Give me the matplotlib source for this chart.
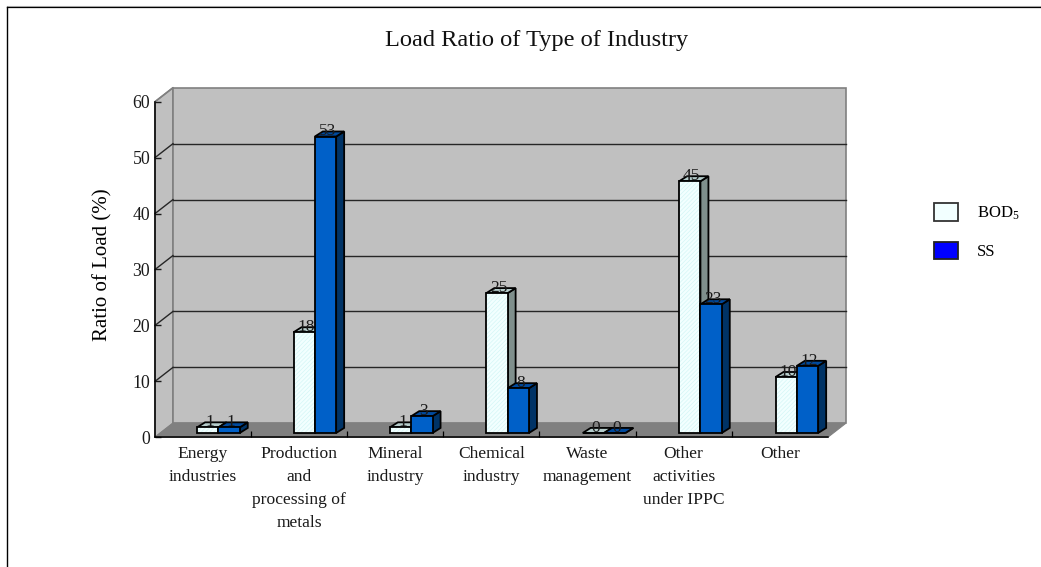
"""Load ratio by type of industry, drawn as a pseudo-3D clustered bar chart."""

import matplotlib
matplotlib.use("Agg")
import matplotlib.pyplot as plt
from matplotlib.lines import Line2D
from matplotlib.patches import Patch

plt.rcParams["font.family"] = ["Liberation Serif", "DejaVu Serif"]
plt.rcParams["mathtext.fontset"] = "custom"
plt.rcParams["mathtext.rm"] = "Liberation Serif"
plt.rcParams["mathtext.default"] = "regular"
plt.rcParams["hatch.linewidth"] = 0.5

categories = [
    "Energy\nindustries",
    "Production\nand\nprocessing of\nmetals",
    "Mineral\nindustry",
    "Chemical\nindustry",
    "Waste\nmanagement",
    "Other\nactivities\nunder IPPC",
    "Other",
]
bod5 = [1, 18, 1, 25, 0, 45, 10]
ss = [1, 53, 3, 8, 0, 23, 12]
y_ticks = [0, 10, 20, 30, 40, 50, 60]

# room depth and bar geometry, in data units
DEPTH_X = 0.187
DEPTH_Y = 2.5
BAR_W = 0.222
BAR_DX = 0.083
BAR_DY = 0.9
BAR_BASE = 0.775
CLUSTER_SHIFT = 0.16
CLUSTER_STEP = 1.003

WALL = "#c0c0c0"
FLOOR = "#808080"
WALL_EDGE = "#808080"
GRID = "#262626"
EDGE_W = 1.3


def bar3d(ax, left, value, face, side, top, z, hatch=None):
    bottom = BAR_BASE
    right = left + BAR_W
    high = bottom + value
    ax.fill([right, right + BAR_DX, right + BAR_DX, right],
            [bottom, bottom + BAR_DY, high + BAR_DY, high],
            facecolor=side, edgecolor="black", lw=EDGE_W, clip_on=False, zorder=z)
    ax.fill([left, right, right + BAR_DX, left + BAR_DX],
            [high, high, high + BAR_DY, high + BAR_DY],
            facecolor=top, edgecolor="black", lw=EDGE_W, clip_on=False, zorder=z)
    if hatch:
        ax.bar(left, value, BAR_W, bottom=bottom, align="edge", facecolor=face,
               edgecolor=hatch, hatch="////////", lw=0, clip_on=False, zorder=z)
        ax.bar(left, value, BAR_W, bottom=bottom, align="edge", fill=False,
               edgecolor="black", lw=EDGE_W, clip_on=False, zorder=z)
    else:
        ax.bar(left, value, BAR_W, bottom=bottom, align="edge", facecolor=face,
               edgecolor="black", lw=EDGE_W, clip_on=False, zorder=z)
    ax.text(left + BAR_W / 2 + 0.02, high + 0.2, str(value), ha="center",
            va="baseline", fontsize=12.5, color="#1a1a1a", clip_on=False, zorder=z)


fig = plt.figure(figsize=(10.41, 5.67), dpi=100)
ax = fig.add_axes([155 / 1041, 1 - 437.3 / 567, 672.8 / 1041, 335.6 / 567])
ax.set_xlim(0, 7)
ax.set_ylim(0, 60)
ax.set_facecolor("none")

# left wall, back wall, floor
ax.fill([0, DEPTH_X, DEPTH_X, 0], [0, DEPTH_Y, 60 + DEPTH_Y, 60], facecolor=WALL,
        edgecolor=WALL_EDGE, lw=1.2, clip_on=False, zorder=1)
ax.fill([DEPTH_X, 7 + DEPTH_X, 7 + DEPTH_X, DEPTH_X],
        [DEPTH_Y, DEPTH_Y, 60 + DEPTH_Y, 60 + DEPTH_Y], facecolor=WALL,
        edgecolor=WALL_EDGE, lw=1.2, clip_on=False, zorder=1)
ax.fill([0, 7, 7 + DEPTH_X, DEPTH_X], [0, 0, DEPTH_Y, DEPTH_Y], facecolor=FLOOR,
        edgecolor=FLOOR, lw=0.8, clip_on=False, zorder=1.5)

for v in y_ticks[1:-1]:
    ax.plot([DEPTH_X, 7 + DEPTH_X], [v + DEPTH_Y] * 2, color=GRID, lw=1.0,
            clip_on=False, zorder=2)
for v in y_ticks[1:]:
    color = WALL_EDGE if v == 60 else GRID
    ax.plot([0, DEPTH_X], [v, v + DEPTH_Y], color=color, lw=1.0, clip_on=False, zorder=2)

z = 3
for i in range(len(categories)):
    center = i * CLUSTER_STEP + 0.5 + CLUSTER_SHIFT
    bar3d(ax, center - BAR_W, bod5[i], "#f2ffff", "#7f8f8c", "#b5cccb", z, hatch="#d4f6f6")
    bar3d(ax, center, ss[i], "#0060c8", "#003366", "#004a9e", z + 1)
    z += 2

for name in ["top", "right"]:
    ax.spines[name].set_visible(False)
for name in ["left", "bottom"]:
    ax.spines[name].set_linewidth(1.1)
    ax.spines[name].set_zorder(2.5)

ax.set_yticks(y_ticks)
ax.tick_params(axis="y", direction="in", length=4.5, width=1, labelsize=12.8, pad=3.5, colors="#1a1a1a")
ax.set_xticks(range(1, 7))
ax.set_xticklabels([])
ax.tick_params(axis="x", which="major", direction="in", length=4.5, width=0.9)
ax.set_xticks([i + 0.5 for i in range(len(categories))], minor=True)
ax.set_xticklabels(categories, minor=True, fontsize=12.6, linespacing=1.6, color="#1a1a1a")
ax.tick_params(axis="x", which="minor", length=0, pad=6)

ax.set_ylabel("Ratio of Load (%)", fontsize=15)
ax.yaxis.set_label_coords(-43 / 672.8, (437.3 - 265) / 335.6)

fig.text(536.5 / 1041, 1 - 46 / 567, "Load Ratio of Type of Industry", ha="center",
         va="baseline", fontsize=17.6, color="#111111")

handles = [
    Patch(facecolor="#f2ffff", edgecolor="#333333", lw=1.3),
    Patch(facecolor="#0000ff", edgecolor="#222222", lw=1.3),
]
fig.legend(handles, ["BOD$_{5}$", "SS"], loc="upper left", frameon=False,
           bbox_to_anchor=(934 / 1041, 1 - 203 / 567), borderaxespad=0, borderpad=0,
           fontsize=12, handlelength=1.45, handleheight=1.25, handletextpad=1.13,
           labelspacing=1.2)

# frame runs only along the top and left edges
fig.add_artist(Line2D([7 / 1041, 1], [1 - 6.2 / 567] * 2, color="#bbbbbb", lw=0.8))
fig.add_artist(Line2D([7 / 1041, 1], [1 - 7.4 / 567] * 2, color="black", lw=0.9))
fig.add_artist(Line2D([7 / 1041] * 2, [0, 1 - 7 / 567], color="black", lw=1.0))

fig.savefig("out.png", dpi=100)
plt.close(fig)
